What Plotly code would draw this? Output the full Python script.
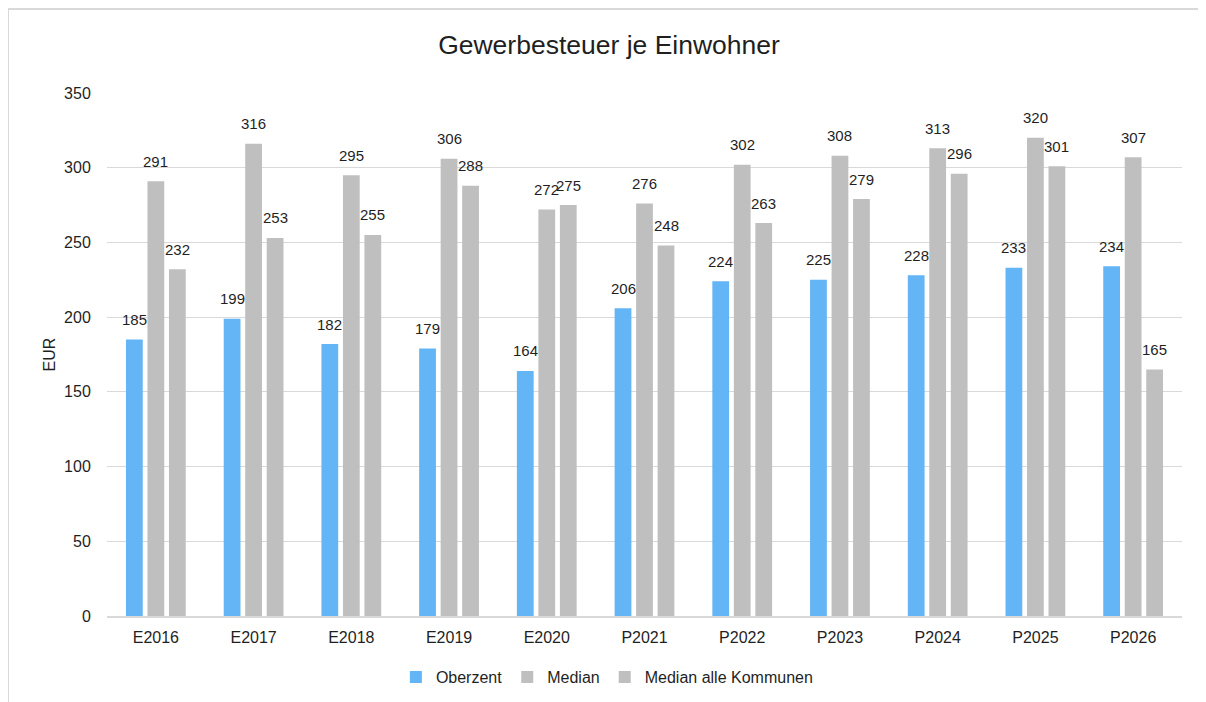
import plotly.graph_objects as go

# data
categories = ["E2016", "E2017", "E2018", "E2019", "E2020", "P2021",
              "P2022", "P2023", "P2024", "P2025", "P2026"]
oberzent = [185, 199, 182, 179, 164, 206, 224, 225, 228, 233, 234]
median = [291, 316, 295, 306, 272, 276, 302, 308, 313, 320, 307]
median_alle = [232, 253, 255, 288, 275, 248, 263, 279, 296, 301, 165]

series = [
    ("Oberzent", oberzent, "#63B5F5"),
    ("Median", median, "#BFBFBF"),
    ("Median alle Kommunen", median_alle, "#BFBFBF"),
]

FONT = "Liberation Sans, Arial, sans-serif"
TEXT = "#1f1f1f"
W, H = 1198, 694
L, R, T, B = 99, 24, 85, 86
PW, PH = W - L - R, H - T - B

fig = go.Figure()
for name, vals, color in series:
    fig.add_trace(go.Bar(x=categories, y=vals, name=name,
                         marker=dict(color=color, line=dict(width=0))))

# value labels above bars, offset to each bar of the group
offsets = [-21.5, 0, 21.5]
for (name, vals, color), dx in zip(series, offsets):
    for cat, v in zip(categories, vals):
        fig.add_annotation(x=cat, y=v, text=str(v), showarrow=False,
                           xshift=dx, yshift=20, yanchor="middle",
                           font=dict(size=15, color=TEXT, family=FONT))

# frame around the chart (left and top edges visible)
fx = (0 - L) / PW
fy = (T + PH - 1) / PH
fig.add_shape(type="line", xref="paper", yref="paper",
              x0=fx, x1=fx, y0=fy, y1=-0.3,
              line=dict(color="#D9D9D9", width=2))
fig.add_shape(type="line", xref="paper", yref="paper",
              x0=fx, x1=1.1, y0=fy, y1=fy,
              line=dict(color="#D9D9D9", width=2))

fig.update_layout(
    width=W, height=H,
    margin=dict(l=L, r=R, t=T, b=B, autoexpand=False),
    paper_bgcolor="white", plot_bgcolor="white",
    font=dict(family=FONT, size=16, color=TEXT),
    title=dict(text="Gewerbesteuer je Einwohner", x=601 / W, xanchor="center",
               y=1 - 37 / H, yanchor="middle", yref="container",
               font=dict(size=26.5, color=TEXT, family=FONT)),
    barmode="group", bargap=0.34, bargroupgap=0.22,
    legend=dict(orientation="h", x=0.465, xanchor="center", y=-0.117,
                yanchor="middle", font=dict(size=16, color=TEXT),
                itemwidth=30, traceorder="normal"),
)
fig.update_xaxes(showgrid=False, showline=True, linecolor="#D9D9D9",
                 linewidth=1.5, ticks="outside", ticklen=6, automargin=False,
                 tickcolor="rgba(0,0,0,0)", tickfont=dict(size=16))
fig.update_yaxes(range=[0, 350], dtick=50, showgrid=True, gridcolor="#D9D9D9",
                 gridwidth=1, zeroline=False, ticks="outside", ticklen=12,
                 tickcolor="rgba(0,0,0,0)", tickfont=dict(size=16),
                 automargin=False,
                 title=dict(text="EUR", font=dict(size=16), standoff=4))

fig.write_html("out.html")
